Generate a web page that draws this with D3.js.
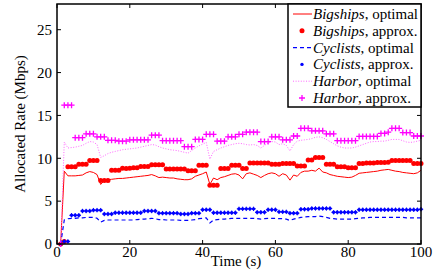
<!DOCTYPE html>
<html><head><meta charset="utf-8"><title>Allocated rate over time</title></head>
<body style="margin:0">
  <div id="graphic"></div>

  <script src="https://cdn.jsdelivr.net/npm/d3@7/dist/d3.min.js"></script>
  <script>
    // time in seconds, one sample per second
    var time = d3.range(1, 101);

    var bigshipsOptimal = [
      0, 8.5, 7.95, 7.95, 7.95, 8.0, 8.05, 8.3, 8.45, 8.35,
      8.1, 6.95, 7.4, 7.5, 7.55, 7.6, 7.65, 7.65, 7.7, 7.75,
      7.8, 7.85, 7.9, 7.95, 8.0, 8.1, 7.95, 7.75, 7.8, 7.75,
      7.7, 7.7, 7.6, 7.55, 7.5, 7.5, 7.6, 7.9, 8.05, 8.2,
      8.4, 6.95, 7.7, 7.5, 7.75, 7.85, 8.0, 8.15, 8.2, 8.05,
      7.6, 8.2, 8.3, 8.15, 8.0, 7.75, 8.0, 8.2, 8.3, 8.2,
      7.9, 8.2, 8.05, 7.45, 8.05, 7.9, 8.35, 8.5, 8.5, 8.6,
      8.5, 8.85, 8.4, 8.3, 8.1, 8.0, 7.9, 7.85, 7.8, 7.75,
      7.8, 8.0, 8.25, 8.3, 8.35, 8.4, 8.45, 8.5, 8.6, 8.65,
      8.7, 8.6, 8.5, 8.45, 8.35, 8.3, 8.25, 8.2, 8.3, 8.6
    ];

    var bigshipsApprox = [
      0, 0.3, 9.0, 9.0, 9.0, 9.3, 9.3, 9.3, 9.75, 9.75,
      9.75, 7.4, 7.4, 7.4, 8.6, 8.6, 8.6, 8.85, 8.8, 8.85,
      8.9, 8.9, 9.05, 9.05, 9.05, 9.25, 9.25, 9.25, 9.25, 8.75,
      8.75, 8.75, 8.75, 8.75, 8.75, 8.55, 8.55, 8.55, 9.2, 9.2,
      9.2, 6.85, 6.85, 6.85, 8.8, 8.8, 8.8, 9.2, 9.2, 9.2,
      8.8, 8.8, 9.45, 9.45, 9.45, 9.45, 9.45, 9.45, 9.3, 9.3,
      9.3, 9.4, 9.4, 9.4, 9.4, 9.1, 9.1, 9.1, 9.8, 9.8,
      10.1, 10.1, 10.1, 9.3, 9.3, 9.3, 9.0, 9.0, 9.0, 8.9,
      8.9, 8.9, 9.4, 9.4, 9.45, 9.45, 9.45, 9.5, 9.5, 9.5,
      9.55, 9.75, 9.75, 9.75, 9.75, 9.75, 9.75, 9.4, 9.4, 9.4
    ];

    var cyclistsOptimal = [
      0, 2.8, 2.95, 3.0, 3.0, 3.05, 3.05, 3.1, 3.1, 3.1,
      3.0, 2.55, 2.75, 2.8, 2.8, 2.8, 2.8, 2.8, 2.8, 2.8,
      2.8, 2.85, 2.9, 2.9, 2.95, 3.0, 2.95, 2.85, 2.85, 2.8,
      2.8, 2.8, 2.8, 2.75, 2.75, 2.75, 2.8, 2.85, 2.95, 3.0,
      3.05, 2.45, 2.8, 2.85, 2.9, 2.9, 2.95, 3.0, 3.0, 3.0,
      3.0, 3.0, 3.0, 3.0, 2.95, 2.9, 2.95, 3.0, 3.0, 3.0,
      2.95, 2.95, 2.9, 2.75, 2.9, 3.0, 3.1, 3.15, 3.2, 3.2,
      3.2, 3.25, 3.2, 3.1, 3.0, 2.95, 2.9, 2.9, 2.9, 2.9,
      2.9, 2.95, 3.0, 3.05, 3.05, 3.1, 3.1, 3.1, 3.1, 3.1,
      3.1, 3.1, 3.1, 3.1, 3.1, 3.05, 3.05, 3.05, 3.05, 3.05
    ];

    var cyclistsApprox = [
      0, 0.3, 0.3, 3.35, 3.35, 3.35, 3.85, 3.85, 3.85, 3.95,
      3.95, 3.95, 3.5, 3.5, 3.5, 3.65, 3.65, 3.65, 3.65, 3.65,
      3.65, 3.65, 3.65, 3.85, 3.85, 3.85, 3.85, 3.6, 3.6, 3.6,
      3.6, 3.6, 3.6, 3.5, 3.5, 3.5, 3.6, 3.6, 3.6, 4.0,
      4.0, 4.0, 3.65, 3.65, 3.65, 3.65, 3.65, 3.65, 3.65, 4.1,
      4.1, 4.1, 4.1, 4.1, 3.7, 3.7, 3.7, 4.0, 4.0, 4.0,
      3.75, 3.75, 3.75, 3.6, 3.6, 3.6, 4.05, 4.05, 4.05, 4.15,
      4.15, 4.15, 4.15, 4.15, 4.15, 3.7, 3.7, 3.7, 3.7, 3.7,
      3.7, 3.7, 4.0, 4.0, 4.0, 4.0, 4.0, 4.0, 4.0, 4.0,
      4.0, 4.0, 4.0, 4.0, 4.0, 4.0, 4.0, 4.0, 4.0, 4.05
    ];

    var harborOptimal = [
      0, 11.9, 11.2, 11.25, 11.3, 11.4, 11.5, 11.75, 11.95, 11.9,
      11.6, 10.1, 10.3, 10.55, 10.7, 10.8, 10.9, 11.0, 11.05, 11.1,
      11.15, 11.2, 11.3, 11.4, 11.5, 11.6, 11.55, 11.35, 11.2, 11.1,
      11.0, 10.95, 10.9, 10.8, 10.7, 10.6, 10.9, 11.2, 11.45, 11.65,
      11.85, 9.9, 10.8, 11.0, 11.2, 11.35, 11.5, 11.6, 11.7, 11.75,
      11.7, 11.6, 11.55, 11.6, 11.5, 11.2, 11.5, 11.8, 11.95, 11.9,
      11.6, 11.7, 11.5, 10.85, 11.6, 12.0, 12.1, 12.15, 12.2, 12.3,
      12.45, 12.5, 12.4, 12.2, 11.95, 11.7, 11.45, 11.3, 11.2, 11.2,
      11.2, 11.3, 11.45, 11.6, 11.75, 11.9, 11.95, 11.95, 12.0, 12.0,
      12.1, 12.2, 12.2, 12.2, 12.05, 11.9, 11.85, 11.9, 12.0, 12.1
    ];

    var harborApprox = [
      0, 16.2, 16.2, 16.2, 12.4, 12.4, 12.4, 12.85, 12.85, 12.85,
      12.5, 12.5, 12.5, 12.1, 12.1, 12.1, 12.0, 12.0, 12.0, 12.15,
      12.15, 12.15, 12.15, 12.15, 12.15, 12.7, 12.7, 12.7, 12.05, 12.05,
      12.05, 12.05, 12.05, 12.05, 11.35, 11.35, 11.35, 12.2, 12.2, 12.2,
      12.8, 12.8, 12.8, 12.0, 12.0, 12.0, 12.5, 12.5, 12.5, 12.8,
      12.8, 13.05, 13.05, 13.05, 13.05, 11.95, 11.95, 11.95, 12.5, 12.5,
      12.5, 12.15, 12.15, 12.15, 12.6, 12.6, 13.5, 13.5, 13.5, 13.2,
      13.2, 13.2, 13.2, 12.85, 12.85, 12.85, 12.05, 12.05, 12.05, 12.05,
      12.05, 12.05, 12.55, 12.55, 12.55, 12.55, 12.55, 12.55, 12.9, 12.9,
      13.05, 13.5, 13.5, 13.5, 13.0, 13.0, 13.0, 12.6, 12.6, 12.6
    ];

    var xTicks = [0, 20, 40, 60, 80, 100];
    var yTicks = [0, 5, 10, 15, 20, 25];

    var legendLabels = [
      { name: "Bigships", kind: ", optimal", colour: "#ff0000", type: "solid" },
      { name: "Bigships", kind: ", approx.", colour: "#ff0000", type: "circle" },
      { name: "Cyclists", kind: ", optimal", colour: "#0000ff", type: "dashed" },
      { name: "Cyclists", kind: ", approx.", colour: "#0000ff", type: "dot" },
      { name: "Harbor", kind: ", optimal", colour: "#ff00ff", type: "dotted" },
      { name: "Harbor", kind: ", approx.", colour: "#ff00ff", type: "plus" }
    ];

    var width = 435, height = 271;
    var margin = { top: 4, right: 14, bottom: 27, left: 57 };
    var chart_width = width - margin.left - margin.right;
    var chart_height = height - margin.top - margin.bottom;

    // text is set at 18px and scaled down to 15px
    var k = 15 / 18;

    var svg = d3.select("#graphic").append("svg")
      .attr("width", width)
      .attr("height", height);

    var g = svg.append("g")
      .attr("transform", "translate(" + margin.left + "," + margin.top + ")");

    var x = d3.scaleLinear().domain([0, 100]).range([0, chart_width]);
    var y = d3.scaleLinear().domain([0, 28]).range([chart_height, 0]);

    function label(parent, px, py, anchor, extra) {
      return parent.append("text")
        .attr("transform", "translate(" + px + "," + py + ")" + (extra || "") + " scale(" + k + ")")
        .attr("text-anchor", anchor)
        .attr("font-family", "Liberation Serif")
        .attr("font-size", "18px")
        .attr("fill", "#000");
    }

    function series(values) {
      return values.map(function(v, i) { return { t: time[i], v: v }; });
    }

    var line = d3.line()
      .x(function(d) { return x(d.t); })
      .y(function(d) { return y(d.v); });

    // optimal lines
    function drawLine(values, colour, dash, w) {
      g.append("path")
        .datum(series(values))
        .attr("d", line)
        .attr("fill", "none")
        .attr("stroke", colour)
        .attr("stroke-width", w)
        .attr("stroke-dasharray", dash);
    }

    function drawCircles(values, colour, r) {
      g.append("g").selectAll("circle")
        .data(series(values))
        .enter().append("circle")
        .attr("cx", function(d) { return x(d.t); })
        .attr("cy", function(d) { return y(d.v); })
        .attr("r", r)
        .attr("fill", colour);
    }

    function drawDots(values, colour) {
      var gg = g.append("g");
      gg.selectAll("circle")
        .data(series(values))
        .enter().append("circle")
        .attr("cx", function(d) { return x(d.t); })
        .attr("cy", function(d) { return y(d.v); })
        .attr("r", 1.7)
        .attr("fill", colour);
      gg.selectAll("path")
        .data(series(values))
        .enter().append("path")
        .attr("d", function(d) {
          var cx = x(d.t), cy = y(d.v);
          return "M" + (cx - 2.2) + "," + cy + "H" + (cx + 2.2) + "M" + cx + "," + (cy - 2.2) + "V" + (cy + 2.2);
        })
        .attr("stroke", colour)
        .attr("stroke-width", 1);
    }

    function drawPlus(values, colour) {
      g.append("g").selectAll("path")
        .data(series(values))
        .enter().append("path")
        .attr("d", function(d) {
          var cx = x(d.t), cy = y(d.v);
          return "M" + (cx - 3) + "," + cy + "H" + (cx + 3) + "M" + cx + "," + (cy - 3) + "V" + (cy + 3);
        })
        .attr("stroke", colour)
        .attr("stroke-width", 1.3);
    }

    drawLine(bigshipsOptimal, "#ff0000", null, 1);
    drawCircles(bigshipsApprox, "#ff0000", 2.5);
    drawLine(cyclistsOptimal, "#0000ff", "4,3", 1.2);
    drawDots(cyclistsApprox, "#0000ff");
    drawLine(harborOptimal, "#ff66ff", "1,1.6", 1);
    drawPlus(harborApprox, "#ff00ff");

    // frame and inward ticks on all sides
    g.append("rect")
      .attr("width", chart_width)
      .attr("height", chart_height)
      .attr("fill", "none")
      .attr("stroke", "#000")
      .attr("stroke-width", 1.5);

    var tickLen = 4;
    xTicks.forEach(function(t) {
      g.append("line").attr("x1", x(t)).attr("x2", x(t))
        .attr("y1", chart_height).attr("y2", chart_height - tickLen)
        .attr("stroke", "#000");
      g.append("line").attr("x1", x(t)).attr("x2", x(t))
        .attr("y1", 0).attr("y2", tickLen)
        .attr("stroke", "#000");
      label(g, x(t), chart_height + 13, "middle").text(t);
    });

    yTicks.forEach(function(v) {
      g.append("line").attr("x1", 0).attr("x2", tickLen)
        .attr("y1", y(v)).attr("y2", y(v))
        .attr("stroke", "#000");
      g.append("line").attr("x1", chart_width).attr("x2", chart_width - tickLen)
        .attr("y1", y(v)).attr("y2", y(v))
        .attr("stroke", "#000");
      label(g, -5, y(v), "end").attr("dy", "0.35em").text(v);
    });

    // axis titles
    label(svg, margin.left + chart_width / 2 - 3, 266, "middle").text("Time (s)");
    label(svg, 25, margin.top + chart_height / 2, "middle", " rotate(-90)").text("Allocated Rate (Mbps)");

    // legend
    var lg = svg.append("g");
    lg.append("rect")
      .attr("x", 288).attr("y", margin.top)
      .attr("width", margin.left + chart_width - 288)
      .attr("height", 103)
      .attr("fill", "#fff")
      .attr("stroke", "#000")
      .attr("stroke-width", 1.5);

    legendLabels.forEach(function(d, i) {
      var cy = 14 + i * 16.8;
      if (d.type === "solid" || d.type === "dashed" || d.type === "dotted") {
        lg.append("line")
          .attr("x1", 293).attr("x2", 312)
          .attr("y1", cy).attr("y2", cy)
          .attr("stroke", d.type === "dotted" ? "#ff66ff" : d.colour)
          .attr("stroke-width", d.type === "dashed" ? 1.2 : 1)
          .attr("stroke-dasharray", d.type === "dashed" ? "4,3" : d.type === "dotted" ? "1,1.6" : null);
      } else if (d.type === "circle") {
        lg.append("circle").attr("cx", 302).attr("cy", cy).attr("r", 2.5).attr("fill", d.colour);
      } else if (d.type === "dot") {
        lg.append("circle").attr("cx", 302).attr("cy", cy).attr("r", 1.7).attr("fill", d.colour);
      } else {
        lg.append("path")
          .attr("d", "M299," + cy + "H305M302," + (cy - 3) + "V" + (cy + 3))
          .attr("stroke", d.colour)
          .attr("stroke-width", 1.3);
      }
      var txt = label(lg, 313, cy + 5, "start");
      txt.append("tspan").attr("font-style", "italic").text(d.name);
      txt.append("tspan").text(d.kind);
    });
  </script>
</body>
</html>
